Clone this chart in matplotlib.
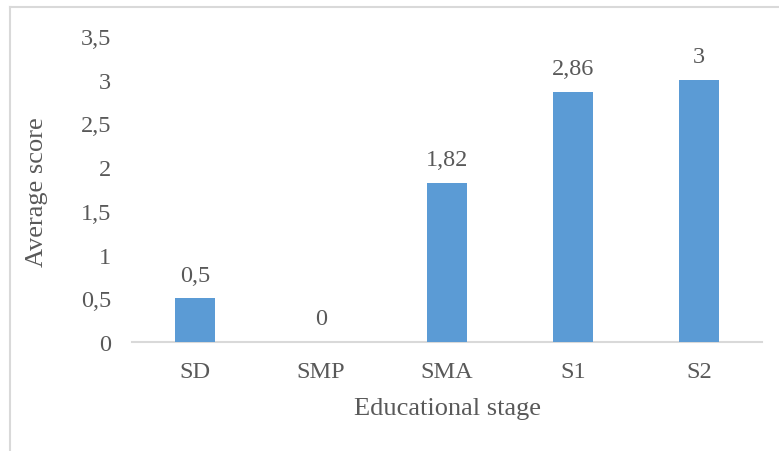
import matplotlib
matplotlib.use("Agg")
import matplotlib.pyplot as plt
from matplotlib.lines import Line2D

categories = ["SD", "SMP", "SMA", "S1", "S2"]
values = [0.5, 0, 1.82, 2.86, 3]
value_labels = ["0,5", "0", "1,82", "2,86", "3"]
yticks = [0, 0.5, 1, 1.5, 2, 2.5, 3, 3.5]
ytick_labels = ["0", "0,5", "1", "1,5", "2", "2,5", "3", "3,5"]

W, H = 779, 452
fig = plt.figure(figsize=(W/100, H/100), dpi=100)
plt.rcParams['font.family'] = ['Liberation Serif', 'DejaVu Serif']
txt = '#595959'
fs = 17.5

ax = fig.add_axes([132/W, (H-343)/H, (762-132)/W, (343-37)/H])
x = range(len(categories))
ax.bar(x, values, width=0.31, color='#5B9BD5', zorder=3)
ax.set_xlim(-0.5, len(categories)-0.5)
ax.set_ylim(0, 3.5)
ax.set_yticks(yticks)
ax.set_yticklabels(ytick_labels)
ax.set_xticks(list(x))
ax.set_xticklabels(categories)
ax.tick_params(axis='both', length=0, labelsize=fs, colors=txt)
ax.tick_params(axis='y', pad=15)
ax.tick_params(axis='x', pad=14)
for s in ['top', 'right', 'left']:
    ax.spines[s].set_visible(False)
ax.spines['bottom'].set_color('#D9D9D9')
ax.spines['bottom'].set_linewidth(1.5)

for xi, v, lab in zip(x, values, value_labels):
    ax.annotate(lab, (xi, v), xytext=(0, 9), textcoords='offset points',
                ha='center', va='bottom', fontsize=fs, color=txt)

fig.text(37/W, 1-192/H, "Average score", rotation=90, ha='center', va='center',
         fontsize=19, color=txt)
fig.text(448/W, 1-409/H, "Educational stage", ha='center', va='center',
         fontsize=19, color=txt)

# chart area border
fig.add_artist(Line2D([10/W, 10/W], [0, 1-8/H], color='#D9D9D9', lw=1.5, transform=fig.transFigure))
fig.add_artist(Line2D([10/W, 1], [1-8/H, 1-8/H], color='#D9D9D9', lw=1.5, transform=fig.transFigure))

fig.savefig("out.png", dpi=100)
